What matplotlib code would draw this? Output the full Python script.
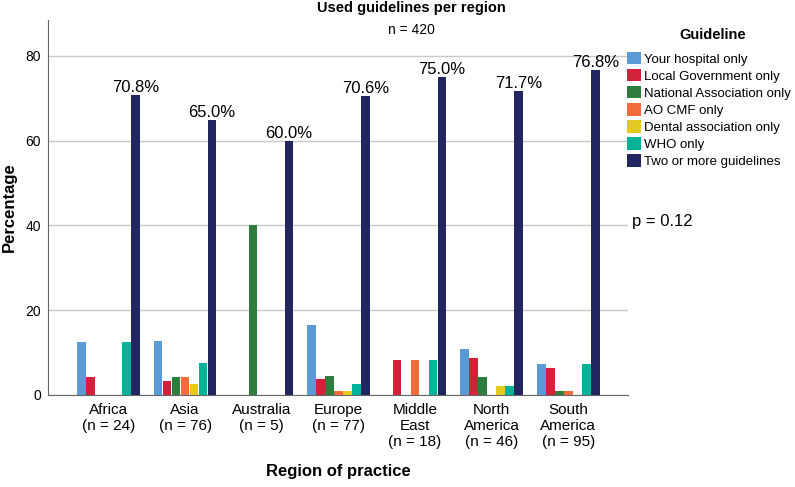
import numpy as np
import matplotlib
matplotlib.use('Agg')
import matplotlib.pyplot as plt

plt.rcParams['font.family'] = ['Liberation Sans', 'DejaVu Sans']

# 数据
regions = ['Africa\n(n = 24)', 'Asia\n(n = 76)', 'Australia\n(n = 5)', 'Europe\n(n = 77)',
           'Middle\nEast\n(n = 18)', 'North\nAmerica\n(n = 46)', 'South\nAmerica\n(n = 95)']
guidelines = ['Your hospital only', 'Local Government only', 'National Association only',
              'AO CMF only', 'Dental association only', 'WHO only', 'Two or more guidelines']

hospital = [12.5, 12.7, 0, 16.5, 0, 10.9, 7.4]
local_gov = [4.2, 3.4, 0, 3.7, 8.3, 8.7, 6.3]
national = [0, 4.3, 40.0, 4.5, 0, 4.3, 1.05]
ao_cmf = [0, 4.3, 0, 1.0, 8.3, 0, 1.05]
dental = [0, 2.5, 0, 1.0, 0, 2.2, 0]
who = [12.5, 7.6, 0, 2.7, 8.3, 2.2, 7.4]
two_more = [70.8, 65.0, 60.0, 70.6, 75.0, 71.7, 76.8]

series = [hospital, local_gov, national, ao_cmf, dental, who, two_more]
colors = ['#5b9bd5', '#d3213b', '#2f7d3c', '#f36b3b', '#e6c91f', '#00b298', '#222660']

fig = plt.figure(figsize=(7.95, 4.87), dpi=100)
ax = fig.add_axes([0.0604, 0.189, 0.7296, 0.77])

x = np.arange(len(regions))
w = 0.1175
for k, (vals, c, lab) in enumerate(zip(series, colors, guidelines)):
    vals = np.array(vals, dtype=float)
    vals[vals == 0] = np.nan
    bars = ax.bar(x + (k - 3) * w, vals, width=w * 0.95, color=c, label=lab, zorder=3)
    if k == 6:
        ax.bar_label(bars, labels=['%.1f%%' % v for v in two_more], padding=0,
                     fontsize=12, zorder=4)

ax.set_xlim(-0.79, 6.78)
ax.set_ylim(0, 88.5)
ax.set_yticks([0, 20, 40, 60, 80])
ax.set_xticks(x)
ax.set_xticklabels(regions, fontsize=11, linespacing=1.15)
ax.tick_params(axis='y', labelsize=10, length=0, pad=5)
ax.tick_params(axis='x', length=0, pad=6)
ax.grid(axis='y', color='#c8c8c8', linewidth=1, zorder=0)
ax.spines['top'].set_visible(False)
ax.spines['right'].set_visible(False)
ax.spines['left'].set_color('#666666')
ax.spines['bottom'].set_color('#666666')

ax.set_ylabel('Percentage', fontsize=12, fontweight='bold', labelpad=6)
ax.set_xlabel('Region of practice', fontsize=12, fontweight='bold', labelpad=11)

fig.text(0.518, 0.983, 'Used guidelines per region', ha='center', va='center',
         fontsize=10.5, fontweight='bold')
fig.text(0.518, 0.938, 'n = 420', ha='center', va='center', fontsize=10)
fig.text(0.795, 0.545, 'p = 0.12', ha='left', va='center', fontsize=12)

# 图例
fig.text(0.896, 0.928, 'Guideline', ha='center', va='center', fontsize=10.5, fontweight='bold')
leg = fig.legend(loc='upper left', bbox_to_anchor=(0.789, 0.893), frameon=False,
                 fontsize=9.5, handlelength=1.05, handleheight=1.05,
                 handletextpad=0.25, labelspacing=0.26, borderpad=0, borderaxespad=0)

plt.savefig('out.png', dpi=100)
